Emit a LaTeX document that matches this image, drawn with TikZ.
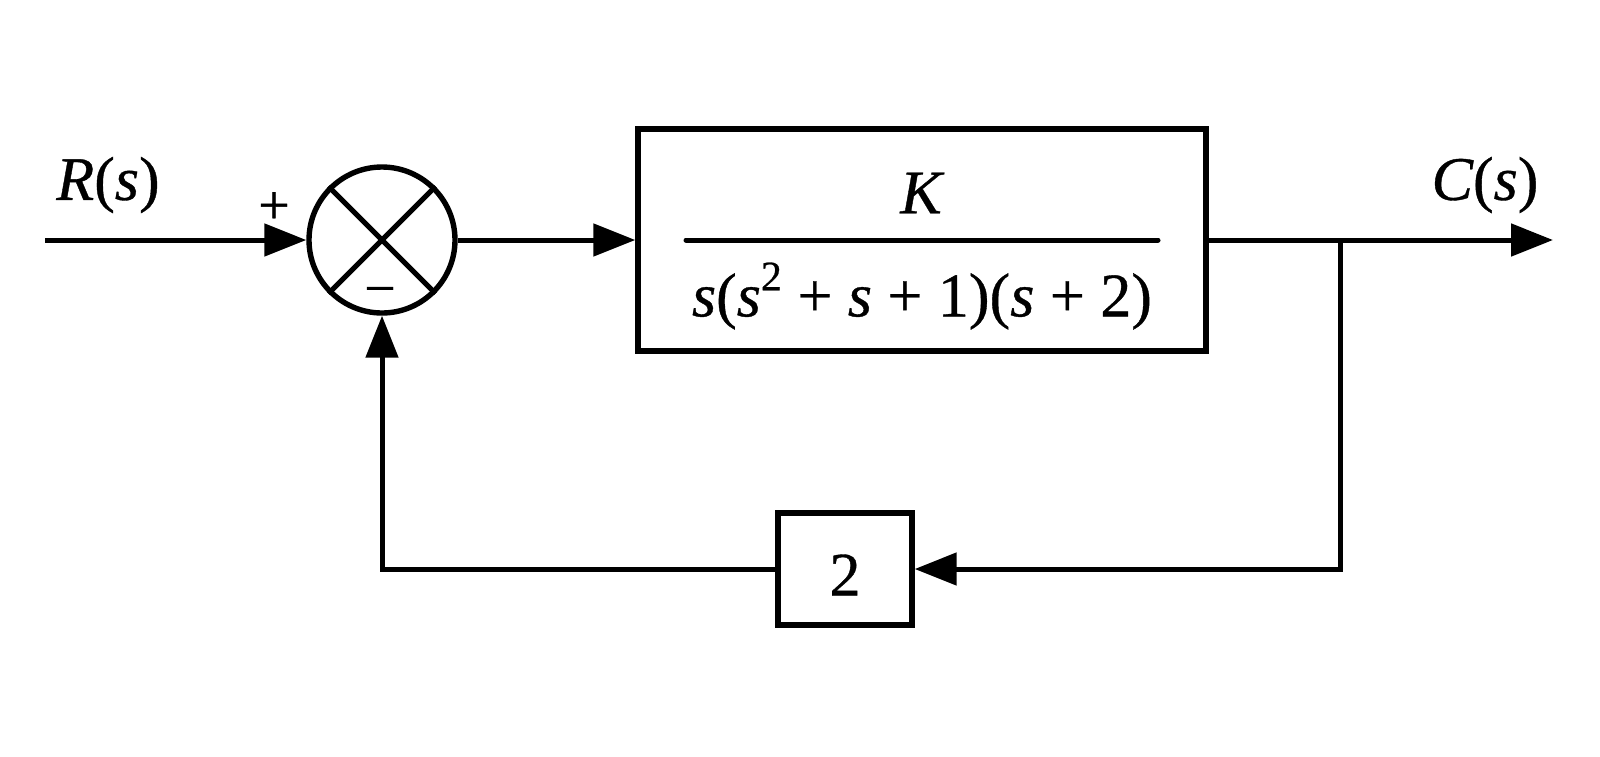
\documentclass[tikz,border=0pt]{standalone}
\usepackage{fontspec}
\newfontfamily\tms{LiberationSerif}[Extension=.ttf, UprightFont=*-Regular, ItalicFont=*-Italic, BoldFont=*-Bold, FakeBold=0.6]
\usetikzlibrary{arrows.meta}
\begin{document}
\begin{tikzpicture}[x=0.5pt,y=-0.5pt,
  wire/.style={line width=2.5pt, -{Triangle[length=21pt,width=16pt]}},
  plain/.style={line width=2.5pt},
  blk/.style={draw, line width=2.7pt, rectangle, inner sep=0pt},
  lbl/.style={font=\tms\fontsize{31}{37}\selectfont, inner sep=0pt},
  sgn/.style={font=\tms\fontsize{28}{30}\selectfont, inner sep=0pt}]
\useasboundingbox (0,0) rectangle (1600,756);
% summing junction
\node[draw, circle, line width=2.7pt, minimum size=73pt, inner sep=0pt] (sum) at (382,240) {};
\draw[plain] (sum.45) -- (sum.225);
\draw[plain] (sum.135) -- (sum.315);
% forward block
\node[blk, minimum width=284pt, minimum height=111pt] (G) at (922,240) {};
\node[lbl] (K) at (921,193) {\itshape K};
\node[lbl] (den) at (922,296) {\itshape s\upshape(\itshape s\upshape\raisebox{0.42em}{\fontsize{21}{21}\selectfont 2} + \itshape s\upshape{} + 1)(\itshape s\upshape{} + 2)};
\coordinate (fl) at (686,240);
\coordinate (fr) at (1158,240);
\draw[line width=2.5pt, line cap=round] (fl) -- (fr);
% feedback block
\node[blk, minimum width=67pt, minimum height=56pt] (H) at (845,569) {};
\node[lbl] (Hgain) at (845,575) {2};
% connectors
\coordinate (in) at (45,240);
\coordinate (out) at (1553,240);
\coordinate (br) at (1340,240);
\draw[wire] (in) -- (sum.west);
\draw[wire] (sum.east) -- (G.west);
\draw[wire] (G.east) -- (out);
\draw[wire] (br) -- (br |- H.east) -- (H.east);
\draw[wire] (H.west) -| (sum.south);
% labels
\node[lbl] (R) at (108,185) {\itshape R\upshape(\itshape s\upshape)};
\node[lbl] (C) at (1485,185) {\itshape C\upshape(\itshape s\upshape)};
\node[sgn] (plus) at (274,208) {+};
\node[sgn] (minus) at (380,297) {−};
\end{tikzpicture}
\end{document}
